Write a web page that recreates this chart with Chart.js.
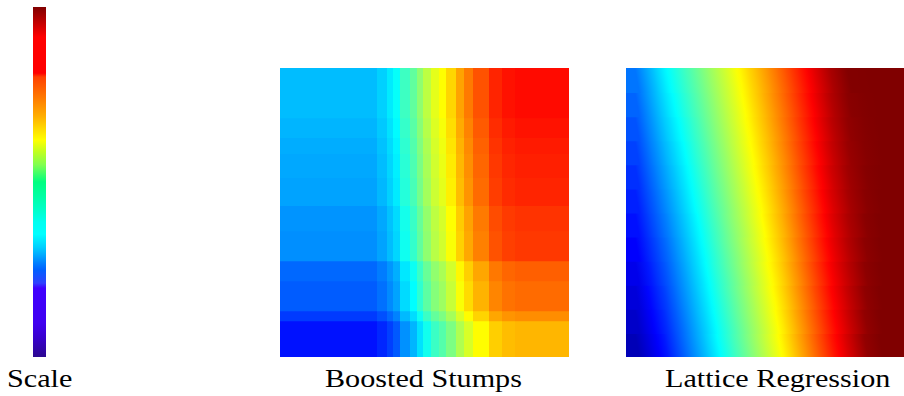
<!DOCTYPE html>
<html><head><meta charset="utf-8">
<script src="https://cdn.jsdelivr.net/npm/chart.js@4/dist/chart.umd.min.js"></script>
<style>
html,body{margin:0;padding:0;background:#fff;width:904px;height:396px;overflow:hidden;}
.panel{position:absolute;}
.lbl{position:absolute;font-family:'Liberation Serif','Times New Roman',Times,serif;font-size:26px;line-height:26px;color:#000;white-space:nowrap;transform:scaleX(1.16);transform-origin:0 0;}
</style></head><body>
<div class="panel" style="left:33px;top:7px;width:13px;height:350px"><canvas id="scaleChart"></canvas></div>
<div class="panel" style="left:280px;top:68px;width:289px;height:289px"><canvas id="stumpChart"></canvas></div>
<div class="panel" style="left:626px;top:68px;width:278px;height:289px"><canvas id="latticeChart"></canvas></div>
<div class="lbl" id="t0" style="left:7px;top:366px"></div>
<div class="lbl" id="t1" style="left:325px;top:366px"></div>
<div class="lbl" id="t2" style="left:665px;top:366px"></div>
<script>
// ---------- data ----------
const panelTitles = ['Scale', 'Boosted Stumps', 'Lattice Regression'];

// colour scale bar: level (0 = bottom, 1 = top) and colour read at that level
const scaleLevels = [0, 0.057, 0.097, 0.197, 0.211, 0.249, 0.269, 0.286, 0.314, 0.351, 0.386, 0.414, 0.463, 0.5, 0.549, 0.586, 0.62, 0.654, 0.686, 0.734, 0.8, 0.811, 0.914, 1];
const scaleColors = ['#2c0890', '#3800d0', '#4000f0', '#4000ff', '#3040ff', '#0060ff', '#0080ff', '#00a0ff', '#00d0ff', '#00ffff', '#00fff0', '#00ffd0', '#00ffa0', '#00ff80', '#80ff50', '#c0ff20', '#ffff00', '#ffd800', '#ffb000', '#ff8000', '#ff4000', '#ff0000', '#ff0000', '#800000'];

// boosted stumps: split points along x (0-100), band heights along y (top to bottom), values per cell
const stumpXSplits = [0, 30.1, 34.6, 37.0, 39.8, 43.9, 46.7, 49.5, 52.9, 56.1, 58.8, 63.0, 66.4, 70.2, 76.8, 82.0, 87.5, 100];
const stumpYBands = [17.0, 6.9, 5.5, 8.3, 9.7, 8.7, 10.4, 6.9, 10.4, 3.5, 12.7];
const stumpGrid = [
  [0.310, 0.330, 0.355, 0.380, 0.435, 0.470, 0.515, 0.560, 0.600, 0.625, 0.665, 0.715, 0.755, 0.795, 0.840, 0.858, 0.865],
  [0.302, 0.322, 0.347, 0.372, 0.427, 0.462, 0.507, 0.552, 0.592, 0.617, 0.657, 0.707, 0.747, 0.787, 0.832, 0.850, 0.857],
  [0.295, 0.315, 0.340, 0.365, 0.420, 0.455, 0.500, 0.545, 0.585, 0.610, 0.650, 0.700, 0.740, 0.780, 0.825, 0.843, 0.850],
  [0.290, 0.310, 0.335, 0.360, 0.415, 0.450, 0.495, 0.540, 0.580, 0.605, 0.645, 0.695, 0.735, 0.775, 0.820, 0.838, 0.845],
  [0.285, 0.305, 0.330, 0.355, 0.410, 0.445, 0.490, 0.535, 0.575, 0.600, 0.640, 0.690, 0.730, 0.770, 0.815, 0.833, 0.840],
  [0.270, 0.290, 0.315, 0.340, 0.395, 0.430, 0.475, 0.520, 0.560, 0.585, 0.625, 0.675, 0.715, 0.755, 0.800, 0.818, 0.825],
  [0.265, 0.285, 0.310, 0.335, 0.390, 0.425, 0.470, 0.515, 0.555, 0.580, 0.620, 0.670, 0.710, 0.750, 0.795, 0.813, 0.820],
  [0.227, 0.247, 0.272, 0.297, 0.352, 0.387, 0.432, 0.477, 0.517, 0.542, 0.582, 0.632, 0.672, 0.712, 0.757, 0.775, 0.782],
  [0.215, 0.235, 0.260, 0.285, 0.340, 0.375, 0.420, 0.465, 0.505, 0.530, 0.570, 0.620, 0.660, 0.700, 0.745, 0.763, 0.770],
  [0.182, 0.202, 0.227, 0.252, 0.307, 0.342, 0.387, 0.432, 0.472, 0.497, 0.537, 0.587, 0.627, 0.667, 0.712, 0.730, 0.737],
  [0.142, 0.162, 0.187, 0.212, 0.267, 0.302, 0.347, 0.392, 0.432, 0.457, 0.497, 0.547, 0.587, 0.627, 0.672, 0.690, 0.697]
];

// lattice regression: sample positions along x (0-100) and values per row (top to bottom)
const latticeX = [0, 7.2, 14.4, 21.6, 28.8, 36.0, 43.2, 50.4, 57.6, 64.7, 71.9, 79.1, 86.3, 93.5, 100];
const latticeGrid = [
  [0.291, 0.362, 0.421, 0.479, 0.540, 0.599, 0.659, 0.717, 0.778, 0.839, 0.900, 0.959, 0.997, 0.999, 1.0],
  [0.273, 0.343, 0.403, 0.462, 0.524, 0.584, 0.644, 0.704, 0.765, 0.827, 0.889, 0.950, 0.990, 0.998, 1.0],
  [0.255, 0.324, 0.384, 0.445, 0.508, 0.569, 0.630, 0.690, 0.752, 0.815, 0.878, 0.940, 0.983, 0.996, 1.0],
  [0.237, 0.304, 0.366, 0.428, 0.491, 0.554, 0.616, 0.676, 0.739, 0.803, 0.867, 0.930, 0.976, 0.994, 1.0],
  [0.219, 0.285, 0.348, 0.411, 0.475, 0.538, 0.601, 0.663, 0.726, 0.791, 0.857, 0.921, 0.969, 0.993, 1.0],
  [0.201, 0.265, 0.330, 0.394, 0.459, 0.523, 0.587, 0.649, 0.713, 0.780, 0.846, 0.911, 0.962, 0.991, 1.0],
  [0.184, 0.246, 0.311, 0.376, 0.443, 0.508, 0.572, 0.636, 0.700, 0.768, 0.835, 0.902, 0.955, 0.990, 1.0],
  [0.166, 0.226, 0.293, 0.359, 0.427, 0.493, 0.558, 0.622, 0.687, 0.756, 0.824, 0.892, 0.948, 0.988, 1.0],
  [0.148, 0.207, 0.275, 0.342, 0.411, 0.477, 0.544, 0.609, 0.674, 0.744, 0.814, 0.883, 0.941, 0.987, 1.0],
  [0.130, 0.188, 0.257, 0.325, 0.394, 0.462, 0.529, 0.595, 0.661, 0.732, 0.803, 0.873, 0.934, 0.985, 1.0],
  [0.112, 0.168, 0.238, 0.308, 0.378, 0.447, 0.515, 0.581, 0.648, 0.720, 0.792, 0.863, 0.927, 0.983, 1.0],
  [0.094, 0.149, 0.220, 0.291, 0.362, 0.432, 0.500, 0.568, 0.635, 0.708, 0.781, 0.854, 0.920, 0.982, 1.0]
];

// ---------- helpers ----------
function jet(v) {
  v = Math.max(0, Math.min(1, v));
  const c = k => Math.round(255 * Math.max(0, Math.min(1, 1.5 - Math.abs(4 * v - k))));
  return 'rgb(' + c(3) + ',' + c(2) + ',' + c(1) + ')';
}
const ISO_TILT = 0.18;  // style: slant of lattice colour bands
const EDGE_PAD = 12;    // style: px of gradient run-out beyond the panel edges

panelTitles.forEach((t, i) => { document.getElementById('t' + i).textContent = t; });

const hiddenBase = {
  responsive: true, maintainAspectRatio: false, animation: false,
  layout: { padding: 0 },
  plugins: { legend: { display: false }, tooltip: { enabled: false }, title: { display: false } },
  events: []
};
const barStyle = { barPercentage: 1, categoryPercentage: 1, borderWidth: 0, inflateAmount: 1 };

// ---------- scale bar ----------
new Chart(document.getElementById('scaleChart'), {
  type: 'bar',
  data: {
    labels: ['scale'],
    datasets: [Object.assign({
      data: [1],
      backgroundColor: (ctx) => {
        const ch = ctx.chart;
        if (!ch.chartArea) return 'rgba(0,0,0,0)';
        const ys = ch.scales.y;
        const g = ch.ctx.createLinearGradient(0, ys.getPixelForValue(0), 0, ys.getPixelForValue(1));
        scaleLevels.forEach((lv, k) => g.addColorStop(lv, scaleColors[k]));
        return g;
      }
    }, barStyle, { inflateAmount: 0 })]
  },
  options: Object.assign({}, hiddenBase, {
    scales: { x: { display: false }, y: { display: false, min: 0, max: 1 } }
  })
});

// ---------- boosted stumps ----------
new Chart(document.getElementById('stumpChart'), {
  type: 'bar',
  data: {
    labels: [''],
    datasets: stumpYBands.map((h, bi) => Object.assign({
      data: [h],
      backgroundColor: (ctx) => {
        const ch = ctx.chart;
        if (!ch.chartArea) return 'rgba(0,0,0,0)';
        const xs = ch.scales.xv;
        const g = ch.ctx.createLinearGradient(xs.getPixelForValue(0), 0, xs.getPixelForValue(100), 0);
        const row = stumpGrid[bi];
        for (let j = 0; j < row.length; j++) {
          g.addColorStop(stumpXSplits[j] / 100, jet(row[j]));
          g.addColorStop(stumpXSplits[j + 1] / 100, jet(row[j]));
        }
        return g;
      }
    }, barStyle))
  },
  options: Object.assign({}, hiddenBase, {
    scales: {
      x: { display: false, stacked: true },
      xv: { type: 'linear', display: false, min: 0, max: 100, position: 'bottom' },
      y: { display: false, stacked: true, reverse: true, min: 0, max: 100 }
    }
  })
});

// ---------- lattice regression ----------
const latticeBand = 100 / latticeGrid.length;
new Chart(document.getElementById('latticeChart'), {
  type: 'bar',
  data: {
    labels: [''],
    datasets: latticeGrid.map((row, ri) => Object.assign({
      data: [latticeBand],
      backgroundColor: (ctx) => {
        const ch = ctx.chart;
        if (!ch.chartArea) return 'rgba(0,0,0,0)';
        const xs = ch.scales.xv, ys = ch.scales.y;
        const xL = xs.getPixelForValue(0), xR = xs.getPixelForValue(100);
        const W = xR - xL;
        const span = W + 2 * EDGE_PAD;
        const gx0 = xL - EDGE_PAD;
        const yc = ys.getPixelForValue(latticeBand * (ri + 0.5));
        const k = span / (1 + ISO_TILT * ISO_TILT);
        const g = ch.ctx.createLinearGradient(gx0, yc, gx0 + k, yc - k * ISO_TILT);
        const toPos = px => (px - gx0) / span;
        const n = row.length;
        const segL = (latticeX[1] - latticeX[0]) / 100 * W;
        g.addColorStop(0, jet(row[0] - (row[1] - row[0]) * EDGE_PAD / segL));
        const sub = 6;
        for (let j = 0; j < n - 1; j++) {
          for (let m = 0; m < sub; m++) {
            const f = m / sub;
            const px = xL + (latticeX[j] + f * (latticeX[j + 1] - latticeX[j])) / 100 * W;
            g.addColorStop(toPos(px), jet(row[j] + f * (row[j + 1] - row[j])));
          }
        }
        g.addColorStop(toPos(xR), jet(row[n - 1]));
        g.addColorStop(1, jet(row[n - 1]));
        return g;
      }
    }, barStyle))
  },
  options: Object.assign({}, hiddenBase, {
    scales: {
      x: { display: false, stacked: true },
      xv: { type: 'linear', display: false, min: 0, max: 100, position: 'bottom' },
      y: { display: false, stacked: true, reverse: true, min: 0, max: 100 }
    }
  })
});
</script>
</body></html>
